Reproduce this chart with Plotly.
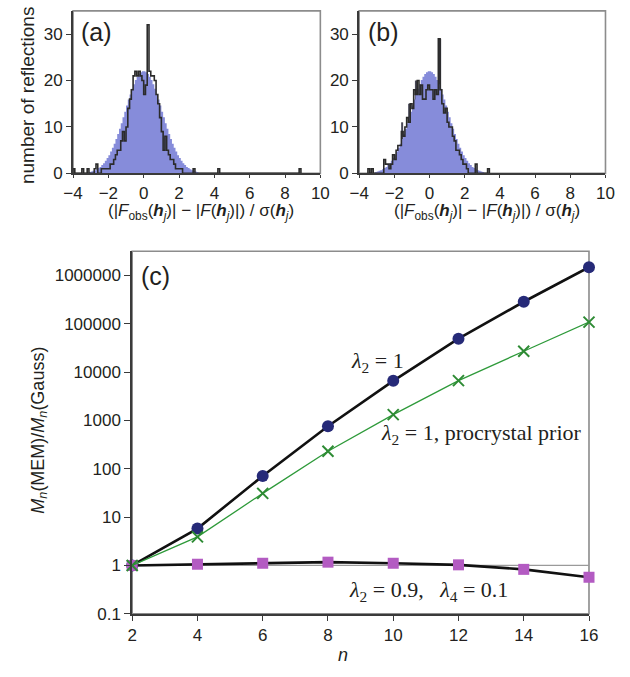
import plotly.graph_objects as go

W, H = 630, 677

# ---------------- data ----------------
# Panel (c)
n_vals = [2, 4, 6, 8, 10, 12, 14, 16]
ratio_l2 = [1, 5.8, 71, 760, 6600, 49000, 285000, 1480000]
ratio_l2_pro = [1, 3.9, 31, 230, 1320, 6650, 27000, 108000]
ratio_l2_l4 = [1, 1.06, 1.11, 1.17, 1.11, 1.03, 0.83, 0.57]
y_ticks_c = [0.1, 1, 10, 100, 1000, 10000, 100000, 1000000]
y_ticktext_c = ["0.1", "1", "10", "100", "1000", "10000", "100000", "1000000"]
x_ticks_c = [2, 4, 6, 8, 10, 12, 14, 16]

# Panels (a),(b): reference normal distribution, 0.1-wide bins starting at -3.1
gauss_start = -3.1
gauss_width = 0.1
gauss_counts = [0.3, 0.4, 0.55, 0.7, 0.9, 1.15, 1.4, 1.8, 2.2, 2.7, 3.3, 3.9, 4.7, 5.5, 6.4, 7.4,
                8.5, 9.6, 10.8, 12.1, 13.3, 14.6, 15.9, 17.0, 18.2, 19.2, 20.1, 20.8, 21.4, 21.8,
                22.0, 22.0,
                21.8, 21.4, 20.8, 20.1, 19.2, 18.2, 17.0, 15.9, 14.6, 13.3, 12.1, 10.8, 9.6, 8.5,
                7.4, 6.4, 5.5, 4.7, 3.9, 3.3, 2.7, 2.2, 1.8, 1.4, 1.15, 0.9, 0.7, 0.55, 0.4, 0.3]

# Panel (a) observed histogram (bin edges, counts)
hist_a_edges = [-4.0, -3.9, -3.5, -3.4, -3.2, -3.1, -2.8, -2.7, -2.6, -2.4,
                -2.3, -2.2, -2.1, -2.0, -1.9, -1.8, -1.7, -1.6, -1.5, -1.4, -1.3, -1.2, -1.1, -1.0,
                -0.9, -0.8, -0.7, -0.6, -0.5, -0.4, -0.3, -0.2, -0.1, 0.0, 0.1, 0.2, 0.3, 0.4, 0.5,
                0.6, 0.7, 0.8, 0.9, 1.0, 1.1, 1.2, 1.3, 1.4, 1.5, 1.6, 1.7, 1.8, 1.9, 2.0, 2.1, 2.2,
                2.8, 2.9, 4.2, 4.3, 8.8, 8.9]
hist_a_counts = [1, 0, 1, 0, 1, 0, 1, 2, 0, 1,
                 1, 1, 1, 1, 2, 2, 3, 4, 5, 5, 7, 9, 7, 10,
                 14, 16, 18, 21, 22, 21, 22, 21, 20, 17, 19, 32, 22, 21, 21,
                 20, 17, 15, 12, 9, 5, 8, 5, 4, 3, 3, 2, 1, 1, 1, 1,
                 0, 1, 0, 1, 0, 1]
# dark overlapping-step regions in (a): centre, width, low, high
dark_a_x = [0.07, -1.12, 1.07]
dark_a_w = [0.16, 0.12, 0.12]
dark_a_lo = [17, 6.5, 4]
dark_a_hi = [21, 9, 8]

# Panel (b) observed histogram (bin edges, counts)
hist_b_edges = [-3.5, -3.4, -3.3, -3.2, -2.6, -2.5, -2.4, -2.3, -2.2, -2.1, -2.0, -1.9, -1.8, -1.7,
                -1.6, -1.5, -1.4, -1.3, -1.2, -1.1, -1.0, -0.9, -0.8, -0.7, -0.6, -0.5, -0.4, -0.3,
                -0.2, -0.1, 0.0, 0.1, 0.2, 0.3, 0.4, 0.5, 0.6, 0.7, 0.8, 0.9, 1.0, 1.1, 1.2, 1.3,
                1.4, 1.5, 1.6, 1.7, 1.8, 1.9, 2.0, 2.1, 2.2, 2.6, 2.7, 3.3, 3.4]
hist_b_counts = [1, 0, 1, 0, 3, 2, 2, 1, 2, 4, 3, 5, 6, 6,
                 9, 8, 10, 12, 11, 15, 14, 18, 17, 20, 17, 19, 16, 16,
                 18, 19, 18, 18, 16, 18, 17, 29, 18, 15, 13, 14, 11, 10, 10, 8,
                 7, 5, 5, 4, 3, 2, 2, 1, 0, 2, 0, 1]
dark_b_x = [-1.55, -1.12, -0.75, -0.28, 0.25, 0.6, 0.95, -2.3]
dark_b_w = [0.1, 0.1, 0.16, 0.1, 0.14, 0.12, 0.1, 0.1]
dark_b_lo = [7, 11, 13, 14, 15, 15, 11, 0]
dark_b_hi = [11, 15, 20, 18, 18, 29, 14, 2]

hist_x_ticks = [-4, -2, 0, 2, 4, 6, 8, 10]
hist_x_text = ["\u22124", "\u22122", "0", "2", "4", "6", "8", "10"]
hist_y_ticks = [0, 10, 20, 30]

# ---------------- styling ----------------
SANS = "Liberation Sans, Arial, sans-serif"
SERIF = "Liberation Serif, Times New Roman, serif"
TXT = "#231f20"
BLUE = "#868cda"
DARK = "#2b2b2b"


def step_xy(edges, counts):
    xs = [edges[0]] + list(edges)
    ys = [0] + list(counts) + [0]
    return xs, ys


def px_x(p):
    return p / W


def px_y(p):
    return 1 - p / H


gauss_edges = [round(gauss_start + i * gauss_width, 3) for i in range(len(gauss_counts) + 1)]

fig = go.Figure()

panels = [("x", "y", hist_a_edges, hist_a_counts, dark_a_x, dark_a_w, dark_a_lo, dark_a_hi),
          ("x2", "y2", hist_b_edges, hist_b_counts, dark_b_x, dark_b_w, dark_b_lo, dark_b_hi)]
for xa, ya, e, c, dx, dw, dlo, dhi in panels:
    gx, gy = step_xy(gauss_edges, gauss_counts)
    fig.add_trace(go.Scatter(x=gx, y=gy, mode="lines", line=dict(shape="hv", width=0, color=BLUE),
                             fill="tozeroy", fillcolor=BLUE, xaxis=xa, yaxis=ya, showlegend=False,
                             hoverinfo="skip"))
    fig.add_trace(go.Bar(x=dx, y=[h - l for h, l in zip(dhi, dlo)], base=dlo, width=dw,
                         marker=dict(color="#353545", line=dict(width=0)), opacity=0.9,
                         xaxis=xa, yaxis=ya, showlegend=False, hoverinfo="skip"))
    hx, hy = step_xy(e, c)
    fig.add_trace(go.Scatter(x=hx, y=hy, mode="lines", line=dict(shape="hv", width=1.6, color=DARK),
                             xaxis=xa, yaxis=ya, showlegend=False, cliponaxis=False))

# panel (c)
fig.add_trace(go.Scatter(x=[n_vals[0], n_vals[-1]], y=[1, 1], mode="lines",
                         line=dict(color="#9a9a9a", width=1.3), xaxis="x3", yaxis="y3",
                         showlegend=False, hoverinfo="skip"))
fig.add_trace(go.Scatter(x=n_vals, y=ratio_l2, mode="lines+markers",
                         line=dict(color="#111111", width=2.6),
                         marker=dict(symbol="circle", size=12, color="#262a78"),
                         xaxis="x3", yaxis="y3", showlegend=False, cliponaxis=False))
fig.add_trace(go.Scatter(x=n_vals, y=ratio_l2_l4, mode="lines+markers",
                         line=dict(color="#111111", width=2.6),
                         marker=dict(symbol="square", size=11, color="#b35bc2"),
                         xaxis="x3", yaxis="y3", showlegend=False, cliponaxis=False))
fig.add_trace(go.Scatter(x=n_vals, y=ratio_l2_pro, mode="lines+markers",
                         line=dict(color="#2e9a3a", width=1.3),
                         marker=dict(symbol="x-thin", size=11, color="#2e8b34",
                                     line=dict(width=2, color="#2e8b34")),
                         xaxis="x3", yaxis="y3", showlegend=False, cliponaxis=False))

ax_common = dict(showgrid=False, zeroline=False, showline=True, linecolor="#3a3a3a", linewidth=1.8,
                 ticks="outside", tickwidth=1.3, tickcolor="#3a3a3a",
                 tickfont=dict(family=SANS, size=17, color=TXT))

fig.update_layout(
    width=W, height=H, margin=dict(l=0, r=0, t=0, b=0),
    paper_bgcolor="white", plot_bgcolor="white", barmode="overlay",
    xaxis=dict(domain=[px_x(65), px_x(320)], range=[-4, 10], tickvals=hist_x_ticks,
               ticktext=hist_x_text, anchor="y", ticklen=3, **ax_common),
    yaxis=dict(domain=[px_y(176), px_y(11)], range=[0, 35], tickvals=hist_y_ticks, anchor="x",
               ticklen=5, **ax_common),
    xaxis2=dict(domain=[px_x(360), px_x(614)], range=[-4, 10], tickvals=hist_x_ticks,
                ticktext=hist_x_text, anchor="y2", ticklen=3, **ax_common),
    yaxis2=dict(domain=[px_y(176), px_y(11)], range=[0, 35], tickvals=hist_y_ticks, anchor="x2",
                ticklen=5, **ax_common),
    xaxis3=dict(domain=[px_x(126), px_x(597)], range=[2, 16], tickvals=x_ticks_c, anchor="y3",
                ticklen=5, **ax_common),
    yaxis3=dict(domain=[px_y(623), px_y(255)], type="log", range=[-1, 6.5], tickvals=y_ticks_c,
                ticktext=y_ticktext_c, anchor="x3", ticklen=6, **ax_common),
)

# frames
for xr, yr in [("x domain", "y domain"), ("x2 domain", "y2 domain"), ("x3 domain", "y3 domain")]:
    fig.add_shape(type="rect", xref=xr, yref=yr, x0=0, x1=1, y0=0, y1=1,
                  line=dict(color="#8c8c8c", width=1.6), layer="below")


def ann(text, x, y, size, family=SANS, xanchor="center", textangle=0, yanchor="middle"):
    fig.add_annotation(text=text, x=px_x(x), y=px_y(y), xref="paper", yref="paper", showarrow=False,
                       xanchor=xanchor, yanchor=yanchor, textangle=textangle,
                       font=dict(family=family, size=size, color=TXT))


ann("(a)", 71, 32, 25, xanchor="left")
ann("(b)", 367, 32, 25, xanchor="left")
ann("(c)", 133, 280, 25, xanchor="left")

ann("number of reflections", 18, 97, 19, textangle=-90)
xt = ("(|<i>F</i><sub>obs</sub>(<b><i>h</i></b><sub><i>j</i></sub>)| \u2212 "
      "|<i>F</i>(<b><i>h</i></b><sub><i>j</i></sub>)|) / \u03c3(<b><i>h</i></b><sub><i>j</i></sub>)")
ann(xt, 197, 215, 17)
ann(xt, 492, 215, 17)

ann("<i>M</i><sub><i>n</i></sub>(MEM)/<i>M</i><sub><i>n</i></sub>(Gauss)", 30, 437, 18, textangle=-90)
ann("<i>n</i>", 343, 665, 18)

ann("<i>\u03bb</i><sub>2</sub> = 1", 408, 367, 22, family=SERIF, xanchor="right")
ann("<i>\u03bb</i><sub>2</sub> = 1, procrystal prior", 486, 441, 22, family=SERIF)
ann("<i>\u03bb</i><sub>2</sub> = 0.9,   <i>\u03bb</i><sub>4</sub> = 0.1", 431, 600, 22, family=SERIF)

fig.write_html("out.html", config={"displayModeBar": False},
               post_script="document.body.style.margin='0';")
